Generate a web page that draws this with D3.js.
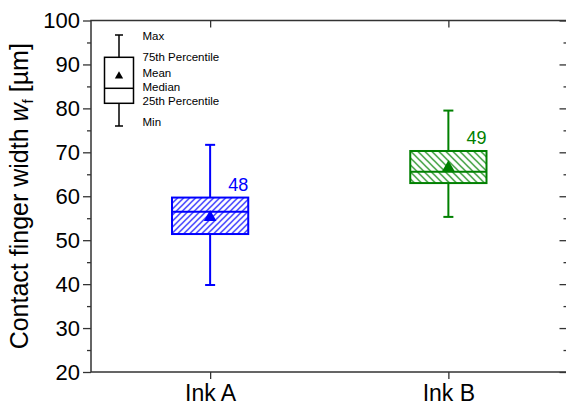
<!DOCTYPE html>
<html>
<head>
<meta charset="utf-8">
<script src="https://cdn.jsdelivr.net/npm/d3@7"></script>
<style>
  body { margin: 0; background: #fff; overflow: hidden; }
  text { font-family: "Liberation Sans", Arial, sans-serif; }
</style>
</head>
<body>
<div id="chart"></div>
<script>
// data
var categories = ["Ink A", "Ink B"];
var maxVals    = [71.7, 79.5];
var q3Vals     = [59.7, 70.3];
var medianVals = [56.5, 65.6];
var q1Vals     = [51.4, 63.0];
var minVals    = [39.8, 55.3];
var meanVals   = [55.2, 66.5];
var nLabels    = ["48", "49"];
var colors     = ["#0000ff", "#008000"];
var yTicks     = [20, 30, 40, 50, 60, 70, 80, 90, 100];
var yMinor     = [25, 35, 45, 55, 65, 75, 85, 95];
var legendLabels = ["Max", "75th Percentile", "Mean", "Median", "25th Percentile", "Min"];

// set the dimensions and margins of the graph
var margin = {top: 20.5, right: -1.5, bottom: 35, left: 91},
    width = 566 - margin.left - margin.right,
    height = 407 - margin.top - margin.bottom;

var svg = d3.select("#chart").append("svg")
    .attr("width", 566)
    .attr("height", 407)
    .style("display", "block")
    .append("g")
    .attr("transform", "translate(" + margin.left + "," + margin.top + ")");

var x = d3.scalePoint().domain(categories).range([0, width]).padding(0.5);
var y = d3.scaleLinear().domain([20, 100]).range([height, 0]);
var boxW = x.step() * 0.32;
var capW = 10;

// hatch patterns
var defs = svg.append("defs");
function hatch(id, color, s, forward) {
    var p = defs.append("pattern")
        .attr("id", id)
        .attr("patternUnits", "userSpaceOnUse")
        .attr("width", s).attr("height", s);
    var d = forward
        ? "M0," + s + " L" + s + ",0 M-1,1 L1,-1 M" + (s - 1) + "," + (s + 1) + " L" + (s + 1) + "," + (s - 1)
        : "M0,0 L" + s + "," + s + " M-1," + (s - 1) + " L1," + (s + 1) + " M" + (s - 1) + ",-1 L" + (s + 1) + ",1";
    p.append("path").attr("d", d).attr("stroke", color).attr("stroke-width", 1.2);
}
hatch("hatchA", colors[0], 6, true);
hatch("hatchB", colors[1], 7, false);
var fills = ["url(#hatchA)", "url(#hatchB)"];

// boxes
categories.forEach(function(c, i) {
    var cx = x(c);
    var g = svg.append("g");
    // whiskers
    g.append("line").attr("x1", cx).attr("x2", cx)
        .attr("y1", y(maxVals[i])).attr("y2", y(q3Vals[i]))
        .attr("stroke", colors[i]).attr("stroke-width", 2);
    g.append("line").attr("x1", cx).attr("x2", cx)
        .attr("y1", y(q1Vals[i])).attr("y2", y(minVals[i]))
        .attr("stroke", colors[i]).attr("stroke-width", 2);
    [maxVals[i], minVals[i]].forEach(function(v) {
        g.append("line").attr("x1", cx - capW / 2).attr("x2", cx + capW / 2)
            .attr("y1", y(v)).attr("y2", y(v))
            .attr("stroke", colors[i]).attr("stroke-width", 2);
    });
    // box
    g.append("rect")
        .attr("x", cx - boxW / 2).attr("width", boxW)
        .attr("y", y(q3Vals[i])).attr("height", y(q1Vals[i]) - y(q3Vals[i]))
        .attr("fill", "#fff");
    g.append("rect")
        .attr("x", cx - boxW / 2).attr("width", boxW)
        .attr("y", y(q3Vals[i])).attr("height", y(q1Vals[i]) - y(q3Vals[i]))
        .attr("fill", fills[i])
        .attr("stroke", colors[i]).attr("stroke-width", 2);
    g.append("line")
        .attr("x1", cx - boxW / 2).attr("x2", cx + boxW / 2)
        .attr("y1", y(medianVals[i])).attr("y2", y(medianVals[i]))
        .attr("stroke", colors[i]).attr("stroke-width", 2);
    // mean
    g.append("path")
        .attr("d", d3.symbol(d3.symbolTriangle, 70))
        .attr("transform", "translate(" + cx + "," + y(meanVals[i]) + ")")
        .attr("fill", colors[i]);
    // count label
    g.append("text")
        .attr("x", cx + 18).attr("y", y(q3Vals[i]) - 7)
        .attr("fill", colors[i])
        .style("font-size", "18px")
        .text(nLabels[i]);
});

// axes
var axisColor = "#333";
function styleAxis(g) {
    g.select(".domain").remove();
    g.selectAll("line").attr("stroke", axisColor).attr("stroke-width", 1.3);
    g.selectAll("text").attr("fill", "#000");
}

// frame
svg.append("rect")
    .attr("width", width).attr("height", height)
    .attr("fill", "none").attr("stroke", axisColor).attr("stroke-width", 1.5);

svg.append("g")
    .call(d3.axisLeft(y).tickValues(yTicks).tickSize(8).tickPadding(3))
    .call(styleAxis)
    .selectAll("text").style("font-size", "22px");
svg.append("g")
    .call(d3.axisLeft(y).tickValues(yMinor).tickSize(4).tickFormat(""))
    .call(styleAxis);

svg.append("g")
    .attr("transform", "translate(" + width + ",0)")
    .call(d3.axisRight(y).tickValues(yTicks).tickSize(-8).tickFormat(""))
    .call(styleAxis);
svg.append("g")
    .attr("transform", "translate(" + width + ",0)")
    .call(d3.axisRight(y).tickValues(yMinor).tickSize(-4).tickFormat(""))
    .call(styleAxis);

svg.append("g")
    .attr("transform", "translate(0," + height + ")")
    .call(d3.axisBottom(x).tickSize(7).tickPadding(6))
    .call(styleAxis)
    .selectAll("text").style("font-size", "23px");
svg.append("g")
    .call(d3.axisTop(x).tickSize(-7).tickFormat(""))
    .call(styleAxis);

// text label for the y axis
var title = svg.append("text")
    .attr("transform", "translate(" + (28 - margin.left) + "," + (height / 2) + ") rotate(-90)")
    .style("text-anchor", "middle")
    .style("font-size", "25px");
title.append("tspan").text("Contact finger width ");
title.append("tspan").style("font-style", "italic").text("w");
title.append("tspan").attr("dy", 5).style("font-size", "15px").text("f");
title.append("tspan").attr("dy", -5).text(" [µm]");

// legend (schematic box)
var lg = svg.append("g").attr("transform", "translate(" + (119 - margin.left) + "," + (-margin.top) + ")");
var lw = 29;
lg.append("line").attr("x1", 0).attr("x2", 0).attr("y1", 35).attr("y2", 57.3)
    .attr("stroke", "#000").attr("stroke-width", 1.5);
lg.append("line").attr("x1", 0).attr("x2", 0).attr("y1", 103.3).attr("y2", 126)
    .attr("stroke", "#000").attr("stroke-width", 1.5);
[35, 126].forEach(function(v) {
    lg.append("line").attr("x1", -4).attr("x2", 4).attr("y1", v).attr("y2", v)
        .attr("stroke", "#000").attr("stroke-width", 1.5);
});
lg.append("rect").attr("x", -lw / 2).attr("y", 57.3).attr("width", lw).attr("height", 46)
    .attr("fill", "#fff").attr("stroke", "#000").attr("stroke-width", 1.5);
lg.append("line").attr("x1", -lw / 2).attr("x2", lw / 2).attr("y1", 88.3).attr("y2", 88.3)
    .attr("stroke", "#000").attr("stroke-width", 1.5);
lg.append("path").attr("d", d3.symbol(d3.symbolTriangle, 30))
    .attr("transform", "translate(0,76)").attr("fill", "#000");
var legendY = [36, 56.7, 72.7, 86.7, 101, 121.7];
legendLabels.forEach(function(t, i) {
    lg.append("text")
        .attr("x", 23.5).attr("y", legendY[i])
        .attr("dy", "0.35em")
        .style("font-size", "11.5px")
        .attr("fill", "#000")
        .text(t);
});
</script>
</body>
</html>
